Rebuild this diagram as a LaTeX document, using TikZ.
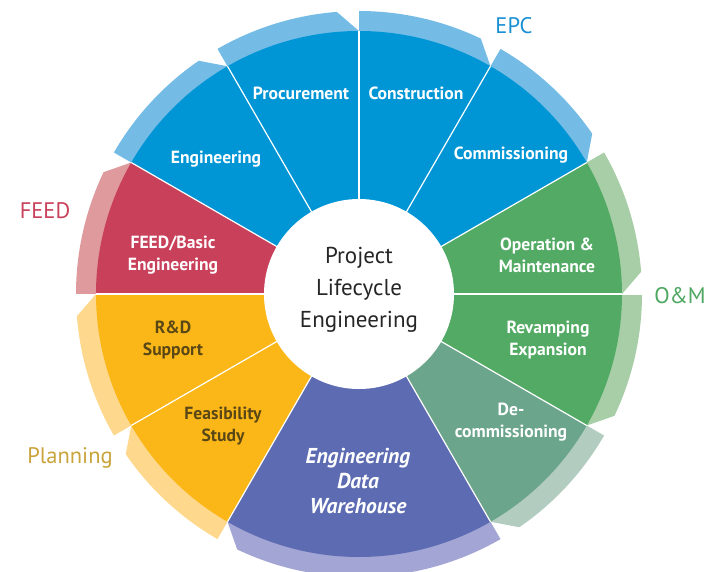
\documentclass[tikz,border=0pt]{standalone}
\usepackage{fontspec}
\setmainfont{PT Sans}
\definecolor{mblue}{HTML}{0096D6}
\definecolor{lblue}{HTML}{74BCE6}
\definecolor{mred}{HTML}{C8405A}
\definecolor{lred}{HTML}{DE9A9D}
\definecolor{myel}{HTML}{FBB718}
\definecolor{lyel}{HTML}{FDD88D}
\definecolor{mpur}{HTML}{5D6CB2}
\definecolor{lpur}{HTML}{A3A6D4}
\definecolor{mdec}{HTML}{6BA58C}
\definecolor{ldec}{HTML}{B2CCBF}
\definecolor{mgrn}{HTML}{52AA64}
\definecolor{lgrn}{HTML}{A7CEA7}
\definecolor{ybrown}{HTML}{5A4716}
\definecolor{cplan}{HTML}{C9A43A}
\definecolor{cepc}{HTML}{1A90D4}
\definecolor{com}{HTML}{4DA761}
\newcommand\wband[3]{\fill[#3] (#1:263) -- ({#1+4.5}:283) arc[start angle={#1+4.5}, end angle=#2, radius=283] -- (#2:257) arc[start angle=#2, end angle=#1, radius=257] -- cycle;}
\newcommand\wsector[3]{\fill[#3] (0,0) -- (#1:263) arc[start angle=#1, end angle=#2, radius=263] -- cycle;}
\tikzset{
  seglbl/.style={font=\bfseries\fontsize{17.6}{22}\selectfont, text=white, align=center, inner sep=0pt},
  yellbl/.style={seglbl, text=ybrown},
  grplbl/.style={font=\fontsize{22.5}{26}\selectfont, anchor=base, inner sep=0pt},
  divider/.style={draw=white, line width=1.2pt}
}
\begin{document}
\begin{tikzpicture}[x=1pt,y=1pt]
\useasboundingbox (-359,-277) rectangle (349,294);
% outer light bands
\wband{0}{30}{lgrn}
\wband{30}{60}{lblue}
\wband{60}{90}{lblue}
\wband{90}{120}{lblue}
\wband{120}{150}{lblue}
\wband{150}{180}{lred}
\wband{180}{210}{lyel}
\wband{210}{240}{lyel}
\wband{240}{300}{lpur}
\wband{300}{330}{ldec}
\wband{330}{360}{lgrn}
% main sectors
\wsector{0}{30}{mgrn}
\wsector{30}{90}{mblue}
\wsector{90}{150}{mblue}
\wsector{150}{180}{mred}
\wsector{180}{240}{myel}
\wsector{240}{300}{mpur}
\wsector{300}{330}{mdec}
\wsector{330}{360}{mgrn}
% dividers
\foreach \a in {0,30,60,90,120,150,180,210,240,300,330}
  \draw[divider] (\a:90) -- (\a:263);
\draw[divider, line width=1pt] (180:263) -- (180:283);
\draw[divider, line width=1pt] (0:263) -- (0:283);
% center
\node[circle, fill=white, minimum size=190pt, inner sep=0pt] (hub) at (0,0) {};
\node[font=\fontsize{23}{32}\selectfont, text=black!85, align=center, inner sep=0pt] (title) at (0,4) {Project\\Lifecycle\\Engineering};
% segment labels
\node[seglbl] (proc) at (-58,201) {Procurement};
\node[seglbl] (cons) at (57,201) {Construction};
\node[seglbl] (eng) at (-143,135) {Engineering};
\node[seglbl] (comm) at (152,139) {Commissioning};
\node[seglbl] (feed) at (-186,39) {FEED/Basic\\Engineering};
\node[seglbl] (om) at (188,39) {Operation \&\\Maintenance};
\node[yellbl] (rd) at (-186,-46) {R\&D\\Support};
\node[seglbl] (rev) at (189,-46) {Revamping\\Expansion};
\node[yellbl] (feas) at (-136,-132) {Feasibility\\Study};
\node[seglbl] (decom) at (152,-128) {De-\\commissioning};
\node[seglbl, font=\bfseries\itshape\fontsize{21.5}{25}\selectfont] (edw) at (-1,-187) {Engineering\\Data\\Warehouse};
% group labels
\node[grplbl, text=cepc] (epc) at (155,261) {EPC};
\node[grplbl, text=mred] (feedg) at (-314,76) {FEED};
\node[grplbl, text=com] (omg) at (321,-9) {O\&M};
\node[grplbl, text=cplan] (plan) at (-289,-169) {Planning};
\end{tikzpicture}
\end{document}
